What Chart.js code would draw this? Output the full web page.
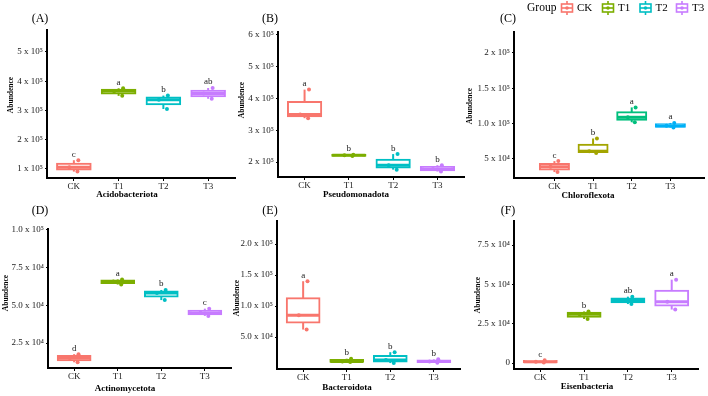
<!DOCTYPE html>
<html><head><meta charset="utf-8">
<script src="https://cdn.jsdelivr.net/npm/chart.js@4.4.1/dist/chart.umd.min.js"></script>
<style>
html,body{margin:0;padding:0;background:#fff;}
#wrap{position:relative;width:708px;height:396px;overflow:hidden;background:#fff;}
canvas{position:absolute;left:0;top:0;}
</style></head>
<body><div id="wrap">
<canvas id="cA" width="708" height="396"></canvas>
<canvas id="cB" width="708" height="396"></canvas>
<canvas id="cC" width="708" height="396"></canvas>
<canvas id="cD" width="708" height="396"></canvas>
<canvas id="cE" width="708" height="396"></canvas>
<canvas id="cF" width="708" height="396"></canvas>
</div>
<script>
// ---------------- data ----------------
const categories = ['CK', 'T1', 'T2', 'T3'];
const groupColors = ['#F8766D', '#7CAE00', '#00BFC4', '#C77CFF'];
const chloroflexotaColors = ['#F8766D', '#A3A500', '#00BF7D', '#00B0F6'];

const acidobacteriotaValues = [
  [0.91e5, 1.06e5, 1.30e5],
  [3.50e5, 3.66e5, 3.76e5],
  [3.05e5, 3.37e5, 3.51e5],
  [3.40e5, 3.58e5, 3.77e5]
];
const acidobacteriotaLetters = ['c', 'a', 'b', 'ab'];
const acidobacteriotaTicks = [1e5, 2e5, 3e5, 4e5, 5e5];
const acidobacteriotaTickLabels = ['1 x 10⁵', '2 x 10⁵', '3 x 10⁵', '4 x 10⁵', '5 x 10⁵'];

const pseudomonadotaValues = [
  [3.38e5, 3.50e5, 4.28e5],
  [2.19e5, 2.21e5, 2.23e5],
  [1.76e5, 1.90e5, 2.25e5],
  [1.70e5, 1.78e5, 1.90e5]
];
const pseudomonadotaLetters = ['a', 'b', 'b', 'b'];
const pseudomonadotaTicks = [2e5, 3e5, 4e5, 5e5, 6e5];
const pseudomonadotaTickLabels = ['2 x 10⁵', '3 x 10⁵', '4 x 10⁵', '5 x 10⁵', '6 x 10⁵'];

const chloroflexotaValues = [
  [3.15e4, 3.90e4, 4.70e4],
  [5.85e4, 6.10e4, 7.90e4],
  [1.02e5, 1.09e5, 1.23e5],
  [0.945e5, 0.97e5, 1.01e5]
];
const chloroflexotaLetters = ['c', 'b', 'a', 'a'];
const chloroflexotaTicks = [5e4, 1e5, 1.5e5, 2e5];
const chloroflexotaTickLabels = ['5 x 10⁴', '1.0 x 10⁵', '1.5 x 10⁵', '2 x 10⁵'];

const actinomycetotaValues = [
  [1.22e4, 1.50e4, 1.76e4],
  [6.38e4, 6.58e4, 6.72e4],
  [5.35e4, 5.82e4, 6.02e4],
  [4.30e4, 4.50e4, 4.78e4]
];
const actinomycetotaLetters = ['d', 'a', 'b', 'c'];
const actinomycetotaTicks = [2.5e4, 5e4, 7.5e4, 1e5];
const actinomycetotaTickLabels = ['2.5 x 10⁴', '5.0 x 10⁴', '7.5 x 10⁴', '1.0 x 10⁵'];

const bacteroidotaValues = [
  [6.2e4, 8.5e4, 1.40e5],
  [0.95e4, 1.05e4, 1.5e4],
  [0.8e4, 1.3e4, 2.55e4],
  [0.85e4, 1.05e4, 1.4e4]
];
const bacteroidotaLetters = ['a', 'b', 'b', 'b'];
const bacteroidotaTicks = [5e4, 1e5, 1.5e5, 2e5];
const bacteroidotaTickLabels = ['5.0 x 10⁴', '1.0 x 10⁵', '1.5 x 10⁵', '2.0 x 10⁵'];

const eisenbacteriaValues = [
  [300, 800, 1700],
  [2.80e4, 3.10e4, 3.28e4],
  [3.75e4, 3.97e4, 4.22e4],
  [3.40e4, 3.90e4, 5.30e4]
];
const eisenbacteriaLetters = ['c', 'b', 'ab', 'a'];
const eisenbacteriaTicks = [0, 2.5e4, 5e4, 7.5e4];
const eisenbacteriaTickLabels = ['0', '2.5 x 10⁴', '5 x 10⁴', '7.5 x 10⁴'];

// ---------------- layout / style ----------------
const SERIF = "'Liberation Serif', 'Times New Roman', serif";
const BOX_WIDTH = 0.75;
const JITTER = [0.08, -0.1, 0.1];
const Y_AXIS_W = 40, X_AXIS_H = 16;

const panels = [
  { id: 'cA', tag: '(A)', title: 'Acidobacteriota', values: acidobacteriotaValues, letters: acidobacteriotaLetters,
    ticks: acidobacteriotaTicks, tickLabels: acidobacteriotaTickLabels, colors: groupColors,
    area: [47, 30, 235, 178], xRange: [-0.6, 3.6], yRange: [0.692e5, 5.752e5],
    tagPos: [40, 19], xTitlePos: [127, 195], yTitlePos: [11, 95] },
  { id: 'cB', tag: '(B)', title: 'Pseudomonadota', values: pseudomonadotaValues, letters: pseudomonadotaLetters,
    ticks: pseudomonadotaTicks, tickLabels: pseudomonadotaTickLabels, colors: groupColors,
    area: [278, 32, 464, 177], xRange: [-0.6, 3.6], yRange: [1.528e5, 6.094e5],
    tagPos: [270, 19], xTitlePos: [356, 195], yTitlePos: [242, 100] },
  { id: 'cC', tag: '(C)', title: 'Chloroflexota', values: chloroflexotaValues, letters: chloroflexotaLetters,
    ticks: chloroflexotaTicks, tickLabels: chloroflexotaTickLabels, colors: chloroflexotaColors,
    area: [514, 32, 706, 178], xRange: [-1.046, 3.87], yRange: [2.31e4, 2.297e5],
    tagPos: [508, 19], xTitlePos: [588, 196], yTitlePos: [470, 106], legend: true },
  { id: 'cD', tag: '(D)', title: 'Actinomycetota', values: actinomycetotaValues, letters: actinomycetotaLetters,
    ticks: actinomycetotaTicks, tickLabels: actinomycetotaTickLabels, colors: groupColors,
    area: [48, 229, 231, 368], xRange: [-0.6, 3.6], yRange: [0.841e4, 1.0066e5],
    tagPos: [40, 211], xTitlePos: [125, 389], yTitlePos: [6, 293] },
  { id: 'cE', tag: '(E)', title: 'Bacteroidota', values: bacteroidotaValues, letters: bacteroidotaLetters,
    ticks: bacteroidotaTicks, tickLabels: bacteroidotaTickLabels, colors: groupColors,
    area: [277, 221, 460, 369], xRange: [-0.6, 3.6], yRange: [-1.6e3, 2.371e5],
    tagPos: [270, 211], xTitlePos: [347, 388], yTitlePos: [237, 298] },
  { id: 'cF', tag: '(F)', title: 'Eisenbacteria', values: eisenbacteriaValues, letters: eisenbacteriaLetters,
    ticks: eisenbacteriaTicks, tickLabels: eisenbacteriaTickLabels, colors: groupColors,
    area: [514, 221, 698, 369], xRange: [-0.6, 3.6], yRange: [-3.8e3, 9.03e4],
    tagPos: [508, 211], xTitlePos: [587, 387], yTitlePos: [478, 295] }
];

// ---------------- helpers ----------------
function quantile7(sorted, p) {
  const h = (sorted.length - 1) * p, lo = Math.floor(h), hi = Math.min(lo + 1, sorted.length - 1);
  return sorted[lo] + (h - lo) * (sorted[hi] - sorted[lo]);
}
function boxStats(vals) {
  const s = vals.slice().sort((a, b) => a - b);
  const q1 = quantile7(s, 0.25), med = quantile7(s, 0.5), q3 = quantile7(s, 0.75);
  const iqr = q3 - q1;
  const inside = s.filter(v => v >= q1 - 1.5 * iqr && v <= q3 + 1.5 * iqr);
  return { q1, med, q3, lo: Math.min(...inside), hi: Math.max(...inside) };
}

function drawKey(ctx, cx, cy, color) {
  ctx.save();
  ctx.strokeStyle = color; ctx.fillStyle = '#fff'; ctx.lineWidth = 1.6;
  ctx.beginPath(); ctx.moveTo(cx, cy - 7); ctx.lineTo(cx, cy - 4); ctx.moveTo(cx, cy + 4); ctx.lineTo(cx, cy + 7); ctx.stroke();
  ctx.fillRect(cx - 5.5, cy - 4, 11, 8); ctx.strokeRect(cx - 5.5, cy - 4, 11, 8);
  ctx.beginPath(); ctx.moveTo(cx - 5.5, cy); ctx.lineTo(cx + 5.5, cy); ctx.stroke();
  ctx.fillStyle = color; ctx.beginPath(); ctx.arc(cx, cy, 1.8, 0, Math.PI * 2); ctx.fill();
  ctx.restore();
}

const panelDecor = {
  id: 'panelDecor',
  afterDraw(chart, args, o) {
    const ctx = chart.ctx, xs = chart.scales.x, ys = chart.scales.y;
    ctx.save();
    // significance letters
    ctx.font = `9px ${SERIF}`; ctx.fillStyle = '#1a1a1a'; ctx.textAlign = 'center'; ctx.textBaseline = 'alphabetic';
    o.letters.forEach((t, i) => {
      const top = Math.max(o.stats[i].hi, ...o.values[i]);
      ctx.fillText(t, xs.getPixelForValue(i), ys.getPixelForValue(top) - 3.5);
    });
    // panel tag
    ctx.fillStyle = '#000'; ctx.font = `12px ${SERIF}`; ctx.textBaseline = 'middle';
    ctx.fillText(o.tag, o.tagPos[0], o.tagPos[1]);
    // x title
    ctx.font = `bold 9px ${SERIF}`;
    ctx.fillText(o.title, o.xTitlePos[0], o.xTitlePos[1]);
    // y title
    ctx.save();
    ctx.translate(o.yTitlePos[0], o.yTitlePos[1]); ctx.rotate(-Math.PI / 2);
    ctx.font = `bold 7.5px ${SERIF}`;
    ctx.fillText('Abundence', 0, 0);
    ctx.restore();
    // legend
    if (o.legend) {
      ctx.textAlign = 'left'; ctx.font = `11.5px ${SERIF}`; ctx.fillStyle = '#000';
      ctx.fillText('Group', 527, 8);
      const keyX = [567, 608, 645.5, 682];
      ctx.font = `11px ${SERIF}`;
      categories.forEach((c, i) => {
        drawKey(ctx, keyX[i], 8, groupColors[i]);
        ctx.fillStyle = '#000';
        ctx.fillText(c, keyX[i] + 10, 8);
      });
    }
    ctx.restore();
  }
};

Chart.defaults.font.family = SERIF;

panels.forEach(p => {
  const stats = p.values.map(boxStats);
  const [L, T, R, B] = p.area;
  const pts = [], ptColors = [];
  p.values.forEach((vals, i) => {
    vals.slice().sort((a, b) => a - b).forEach((v, k) => { pts.push({ x: i + JITTER[k % JITTER.length], y: v }); ptColors.push(p.colors[i]); });
  });
  new Chart(document.getElementById(p.id), {
    type: 'bar',
    data: {
      datasets: [
        { type: 'scatter', label: 'points', data: pts, backgroundColor: ptColors, borderWidth: 0, pointRadius: 2, order: 0 },
        { type: 'scatter', label: 'median', data: stats.map((s, i) => ({ x: i, y: s.med })),
          pointStyle: 'line', borderColor: p.colors, borderWidth: 3, order: 1,
          pointRadius: c => { const s = c.chart.scales.x; return Math.abs(s.getPixelForValue(BOX_WIDTH / 2) - s.getPixelForValue(0)); } },
        { type: 'bar', label: 'box', data: stats.map((s, i) => ({ x: i, y: [s.q1, s.q3] })),
          backgroundColor: '#fff', borderColor: p.colors, borderWidth: 2, borderSkipped: false, inflateAmount: 1,
          grouped: false, barPercentage: BOX_WIDTH, categoryPercentage: 1, order: 2 },
        { type: 'bar', label: 'whisker', data: stats.map((s, i) => ({ x: i, y: [s.lo, s.hi] })),
          backgroundColor: p.colors, borderWidth: 0, inflateAmount: 0, grouped: false, barThickness: 2, order: 3 }
      ]
    },
    options: {
      responsive: false, animation: false, events: [],
      layout: { padding: { left: L - Y_AXIS_W, top: T, right: 708 - R, bottom: 396 - B - X_AXIS_H } },
      plugins: {
        legend: { display: false }, tooltip: { enabled: false },
        panelDecor: { ...p, stats }
      },
      scales: {
        x: {
          type: 'linear', min: p.xRange[0], max: p.xRange[1], offset: false,
          afterFit: s => { s.height = X_AXIS_H; },
          afterBuildTicks: s => { s.ticks = categories.map((c, i) => ({ value: i })); },
          ticks: { callback: (v, i) => categories[i], autoSkip: false, maxRotation: 0, padding: 0, color: '#1a1a1a', font: { size: 9, family: SERIF } },
          grid: { display: true, drawOnChartArea: false, drawTicks: true, tickLength: 3, color: '#000', lineWidth: 1, offset: false },
          border: { display: true, color: '#000', width: 2 }
        },
        y: {
          type: 'linear', min: p.yRange[0], max: p.yRange[1], beginAtZero: false,
          afterFit: s => { s.width = Y_AXIS_W; },
          afterBuildTicks: s => { s.ticks = p.ticks.map(v => ({ value: v })); },
          ticks: { callback: (v, i) => p.tickLabels[i], autoSkip: false, padding: 2, color: '#1a1a1a', font: { size: 9, family: SERIF } },
          grid: { display: true, drawOnChartArea: false, drawTicks: true, tickLength: 2, color: '#000', lineWidth: 1 },
          border: { display: true, color: '#000', width: 2 }
        }
      }
    },
    plugins: [panelDecor]
  });
});
</script></body></html>
